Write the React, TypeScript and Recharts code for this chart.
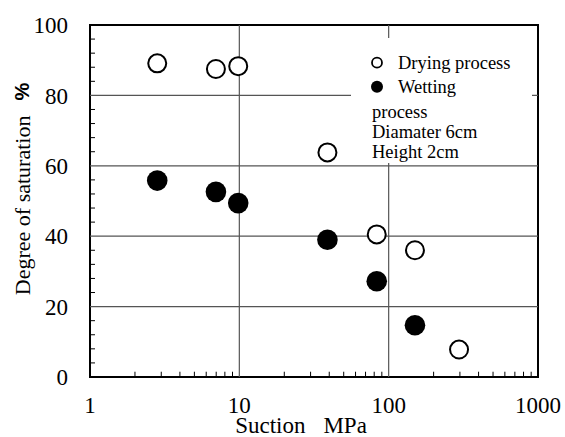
import { ReferenceArea, ReferenceLine, Scatter, ScatterChart, XAxis, YAxis } from 'recharts'

// Suction (MPa) and degree of saturation (%)
const dryingSuction = [2.82, 6.97, 9.83, 38.9, 83.2, 150, 296]
const dryingSaturation = [89.1, 87.5, 88.3, 63.8, 40.5, 36.0, 7.8]
const wettingSuction = [2.82, 6.97, 9.83, 38.9, 83.2, 150]
const wettingSaturation = [55.8, 52.6, 49.4, 39.0, 27.2, 14.7]

const xTicks = [1, 10, 100, 1000]
const yTicks = [0, 20, 40, 60, 80, 100]
const xGrid = [10, 100]
const yGrid = [20, 40, 60, 80]
const xMinor = [2, 3, 4, 5, 6, 7, 8, 9, 20, 30, 40, 50, 60, 70, 80, 90, 200, 300, 400, 500, 600, 700, 800, 900]
const yMinor = [4, 8, 12, 16, 24, 28, 32, 36, 44, 48, 52, 56, 64, 68, 72, 76, 84, 88, 92, 96]

const legendLines = ['process', 'Diamater 6cm', 'Height 2cm']

const drying = dryingSuction.map((x, i) => ({ x, y: dryingSaturation[i] }))
const wetting = wettingSuction.map((x, i) => ({ x, y: wettingSaturation[i] }))

const serif = 'Liberation Serif'

const OpenDot = (p: any) => <circle cx={p.cx} cy={p.cy} r={9} fill="#fff" stroke="#000" strokeWidth={2} />
const FilledDot = (p: any) => <circle cx={p.cx} cy={p.cy} r={10.3} fill="#000" />

function YLabel(props: any) {
  const vb = props.viewBox
  const cx = vb.x + 22
  const cy = vb.y + vb.height / 2 - 12
  return (
    <text
      x={cx}
      y={cy}
      transform={`rotate(-90, ${cx}, ${cy})`}
      textAnchor="middle"
      dominantBaseline="central"
      fill="#000"
      style={{ fontFamily: serif }}
    >
      <tspan style={{ fontFamily: serif, fontSize: 22 }}>Degree of saturation</tspan>
      <tspan dx={15} style={{ fontFamily: 'Liberation Sans', fontWeight: 'bold', fontSize: 20 }}>%</tspan>
    </text>
  )
}

function XLabel(props: any) {
  const vb = props.viewBox
  return (
    <text
      x={vb.x + vb.width / 2 - 13}
      y={433}
      textAnchor="middle"
      fill="#000"
      style={{ fontFamily: serif, fontSize: 23 }}
    >
      <tspan>Suction</tspan>
      <tspan dx={18}>MPa</tspan>
    </text>
  )
}

function LegendBox() {
  const textStyle = { fontFamily: serif, fontSize: 18.5 }
  return (
    <div
      style={{
        position: 'absolute',
        left: 351,
        top: 38,
        width: 181,
        height: 125,
        background: '#fff',
      }}
    >
      <svg width={181} height={125} style={{ display: 'block' }}>
        <circle cx={26} cy={24.7} r={5} fill="#fff" stroke="#000" strokeWidth={1.8} />
        <text x={47} y={24.7} dominantBaseline="central" fill="#000" style={textStyle}>
          Drying process
        </text>
        <circle cx={26} cy={48.7} r={6} fill="#000" />
        <text x={47} y={48.7} dominantBaseline="central" fill="#000" style={textStyle}>
          Wetting
        </text>
        {legendLines.map((t, i) => (
          <text key={t} x={21} y={73.7 + i * 20} dominantBaseline="central" fill="#000" style={textStyle}>
            {t}
          </text>
        ))}
      </svg>
    </div>
  )
}

export default function App() {
  return (
    <div
      style={{
        position: 'absolute',
        left: 0,
        top: 0,
        width: 565,
        height: 437,
        background: '#fff',
        fontFamily: serif,
      }}
    >
      <ScatterChart width={565} height={437} margin={{ top: 25, right: 27, left: 0, bottom: 0 }}>
        <XAxis
          dataKey="x"
          type="number"
          scale="log"
          domain={[1, 1000]}
          ticks={xTicks}
          allowDataOverflow
          height={60}
          axisLine={false}
          tickLine={false}
          tickSize={0}
          tickMargin={20}
          tick={{ fill: '#000', fontSize: 23, style: { fontFamily: serif } }}
          label={{ content: XLabel }}
        />
        <YAxis
          dataKey="y"
          type="number"
          domain={[0, 100]}
          ticks={yTicks}
          allowDataOverflow
          width={90}
          axisLine={false}
          tickLine={false}
          tickSize={0}
          tickMargin={22}
          tick={{ fill: '#000', fontSize: 23, style: { fontFamily: serif } }}
          label={{ content: YLabel }}
        />
        {yGrid.map((v) => (
          <ReferenceLine key={`gy${v}`} y={v} stroke="#555" strokeWidth={1.2} />
        ))}
        {xGrid.map((v) => (
          <ReferenceLine key={`gx${v}`} x={v} stroke="#555" strokeWidth={1.2} />
        ))}
        {xMinor.map((v) => (
          <ReferenceLine key={`mx${v}`} segment={[{ x: v, y: 0 }, { x: v, y: 1.5 }]} stroke="#000" strokeWidth={1} />
        ))}
        {yMinor.map((v) => (
          <ReferenceLine key={`my${v}`} segment={[{ x: 1, y: v }, { x: 1.08, y: v }]} stroke="#000" strokeWidth={1} />
        ))}
        <ReferenceArea x1={1} x2={1000} y1={0} y2={100} fill="none" stroke="#000" strokeWidth={2} />
        <Scatter data={drying} shape={OpenDot} isAnimationActive={false} />
        <Scatter data={wetting} shape={FilledDot} isAnimationActive={false} />
      </ScatterChart>
      <LegendBox />
    </div>
  )
}
